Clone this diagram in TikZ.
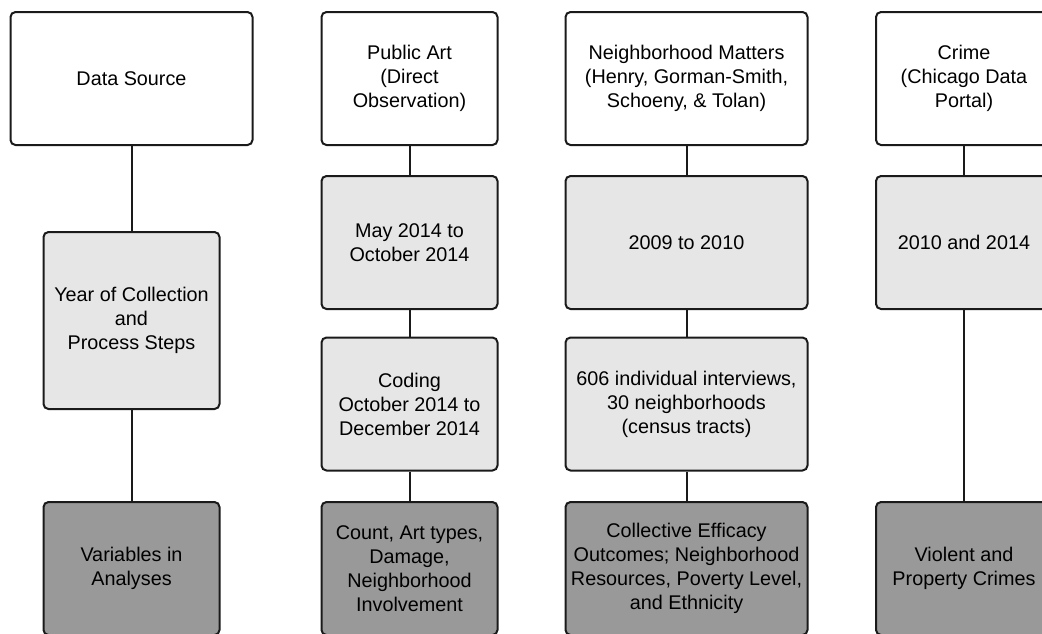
\documentclass[tikz,border=0pt]{standalone}
\usepackage{fontspec}
\setmainfont{Liberation Sans}
\definecolor{lightbox}{HTML}{E6E6E6}
\definecolor{darkbox}{HTML}{999999}
\definecolor{edge}{HTML}{1A1A1A}
\tikzset{
  basebox/.style={draw=edge, line width=2pt, rounded corners=5pt, align=center,
    font=\fontsize{19.8}{24}\selectfont, text=black, inner sep=0pt},
  whitebox/.style={basebox, fill=white},
  greybox/.style={basebox, fill=lightbox},
  darkgrey/.style={basebox, fill=darkbox},
  wideW/.style={minimum width=242pt},
  narrowW/.style={minimum width=176pt},
  rowH/.style={minimum height=133pt},
  link/.style={draw=edge, line width=2pt}
}
\begin{document}
\begin{tikzpicture}[x=1pt,y=-1pt]
\useasboundingbox (0,0) rectangle (1042,633);
\clip (0,0) rectangle (1042,633);
% column 1
\node[whitebox, wideW, rowH] (ds) at (131.5,78.5) {Data Source};
\node[greybox, narrowW, minimum height=177pt] (yc) at (131.5,320.5) {Year of Collection\\and\\Process Steps};
\node[darkgrey, narrowW, rowH] (va) at (131.5,568.5) {Variables in\\Analyses};
% column 2
\node[whitebox, narrowW, rowH] (pa) at (409.5,78.5) {Public Art\\(Direct\\Observation)};
\node[greybox, narrowW, rowH] (may) at (409.5,242.5) {May 2014 to\\October 2014};
\node[greybox, narrowW, rowH] (cod) at (409.5,404) {Coding\\October 2014 to\\December 2014};
\node[darkgrey, narrowW, rowH] (cnt) at (409.5,568.5) {Count, Art types,\\Damage,\\Neighborhood\\Involvement};
% column 3
\node[whitebox, wideW, rowH] (nm) at (686.5,78.5) {Neighborhood Matters\\(Henry, Gorman-Smith,\\Schoeny, \& Tolan)};
\node[greybox, wideW, rowH] (y09) at (686.5,242.5) {2009 to 2010};
\node[greybox, wideW, rowH] (iv) at (686.5,404) {606 individual interviews,\\30 neighborhoods\\(census tracts)};
\node[darkgrey, wideW, rowH] (ce) at (686.5,568.5) {Collective Efficacy\\Outcomes; Neighborhood\\Resources, Poverty Level,\\and Ethnicity};
% column 4
\node[whitebox, narrowW, rowH] (cr) at (964,78.5) {Crime\\(Chicago Data\\Portal)};
\node[greybox, narrowW, rowH] (y10) at (964,242.5) {2010 and 2014};
\node[darkgrey, narrowW, rowH] (vp) at (964,568.5) {Violent and\\Property Crimes};
% connectors
\draw[link] (ds) -- (yc);
\draw[link] (yc) -- (va);
\draw[link] (pa) -- (may);
\draw[link] (may) -- (cod);
\draw[link] (cod) -- (cnt);
\draw[link] (nm) -- (y09);
\draw[link] (y09) -- (iv);
\draw[link] (iv) -- (ce);
\draw[link] (cr) -- (y10);
\draw[link] (y10) -- (vp);
\end{tikzpicture}
\end{document}
